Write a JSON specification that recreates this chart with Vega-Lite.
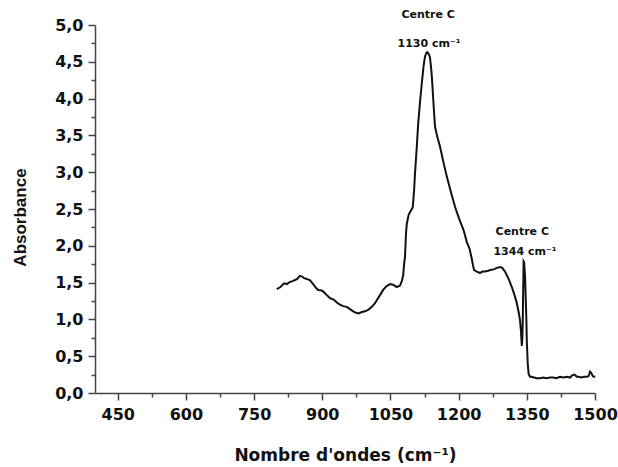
{
  "$schema": "https://vega.github.io/schema/vega-lite/v6.json",
  "width": 500,
  "height": 368,
  "autosize": {"type": "none"},
  "padding": {"left": 95, "top": 25, "right": 23, "bottom": 74},
  "background": "white",
  "config": {"view": {"stroke": null}},
  "datasets": {
    "spectrum": [
      {"wavenumber": 800, "absorbance": 1.41}, {"wavenumber": 808, "absorbance": 1.44},
      {"wavenumber": 816, "absorbance": 1.49}, {"wavenumber": 822, "absorbance": 1.48},
      {"wavenumber": 829, "absorbance": 1.51}, {"wavenumber": 835, "absorbance": 1.52},
      {"wavenumber": 840, "absorbance": 1.535}, {"wavenumber": 845, "absorbance": 1.55},
      {"wavenumber": 850, "absorbance": 1.59}, {"wavenumber": 855, "absorbance": 1.585},
      {"wavenumber": 860, "absorbance": 1.56}, {"wavenumber": 866, "absorbance": 1.55},
      {"wavenumber": 873, "absorbance": 1.53}, {"wavenumber": 880, "absorbance": 1.48},
      {"wavenumber": 886, "absorbance": 1.43}, {"wavenumber": 891, "absorbance": 1.40},
      {"wavenumber": 897, "absorbance": 1.395}, {"wavenumber": 902, "absorbance": 1.38},
      {"wavenumber": 910, "absorbance": 1.33}, {"wavenumber": 917, "absorbance": 1.29},
      {"wavenumber": 925, "absorbance": 1.27}, {"wavenumber": 932, "absorbance": 1.23},
      {"wavenumber": 939, "absorbance": 1.20}, {"wavenumber": 946, "absorbance": 1.18},
      {"wavenumber": 954, "absorbance": 1.17}, {"wavenumber": 961, "absorbance": 1.14},
      {"wavenumber": 968, "absorbance": 1.11}, {"wavenumber": 974, "absorbance": 1.09},
      {"wavenumber": 980, "absorbance": 1.08}, {"wavenumber": 987, "absorbance": 1.10},
      {"wavenumber": 994, "absorbance": 1.11}, {"wavenumber": 1001, "absorbance": 1.13},
      {"wavenumber": 1009, "absorbance": 1.17}, {"wavenumber": 1016, "absorbance": 1.22},
      {"wavenumber": 1023, "absorbance": 1.29}, {"wavenumber": 1029, "absorbance": 1.35},
      {"wavenumber": 1034, "absorbance": 1.40}, {"wavenumber": 1041, "absorbance": 1.45},
      {"wavenumber": 1049, "absorbance": 1.48}, {"wavenumber": 1056, "absorbance": 1.47},
      {"wavenumber": 1064, "absorbance": 1.44}, {"wavenumber": 1071, "absorbance": 1.46},
      {"wavenumber": 1075, "absorbance": 1.52}, {"wavenumber": 1078, "absorbance": 1.60},
      {"wavenumber": 1080, "absorbance": 1.75}, {"wavenumber": 1082, "absorbance": 1.85},
      {"wavenumber": 1084, "absorbance": 2.15}, {"wavenumber": 1086, "absorbance": 2.30},
      {"wavenumber": 1090, "absorbance": 2.42}, {"wavenumber": 1095, "absorbance": 2.48},
      {"wavenumber": 1099, "absorbance": 2.52}, {"wavenumber": 1102, "absorbance": 2.75},
      {"wavenumber": 1104, "absorbance": 2.98}, {"wavenumber": 1108, "absorbance": 3.35},
      {"wavenumber": 1111, "absorbance": 3.66}, {"wavenumber": 1115, "absorbance": 3.95},
      {"wavenumber": 1119, "absorbance": 4.21}, {"wavenumber": 1123, "absorbance": 4.45},
      {"wavenumber": 1126, "absorbance": 4.57}, {"wavenumber": 1129, "absorbance": 4.62},
      {"wavenumber": 1131, "absorbance": 4.63}, {"wavenumber": 1134, "absorbance": 4.61},
      {"wavenumber": 1137, "absorbance": 4.56}, {"wavenumber": 1140, "absorbance": 4.38},
      {"wavenumber": 1142, "absorbance": 4.21}, {"wavenumber": 1145, "absorbance": 3.90},
      {"wavenumber": 1148, "absorbance": 3.62}, {"wavenumber": 1153, "absorbance": 3.48},
      {"wavenumber": 1159, "absorbance": 3.35}, {"wavenumber": 1166, "absorbance": 3.15},
      {"wavenumber": 1174, "absorbance": 2.94}, {"wavenumber": 1183, "absorbance": 2.73},
      {"wavenumber": 1192, "absorbance": 2.53}, {"wavenumber": 1201, "absorbance": 2.37},
      {"wavenumber": 1211, "absorbance": 2.21}, {"wavenumber": 1218, "absorbance": 2.05},
      {"wavenumber": 1224, "absorbance": 1.96}, {"wavenumber": 1229, "absorbance": 1.82},
      {"wavenumber": 1232, "absorbance": 1.72}, {"wavenumber": 1234, "absorbance": 1.67},
      {"wavenumber": 1240, "absorbance": 1.65}, {"wavenumber": 1247, "absorbance": 1.63},
      {"wavenumber": 1252, "absorbance": 1.65}, {"wavenumber": 1258, "absorbance": 1.65},
      {"wavenumber": 1265, "absorbance": 1.66}, {"wavenumber": 1270, "absorbance": 1.67},
      {"wavenumber": 1277, "absorbance": 1.68}, {"wavenumber": 1284, "absorbance": 1.70},
      {"wavenumber": 1291, "absorbance": 1.71}, {"wavenumber": 1296, "absorbance": 1.70},
      {"wavenumber": 1302, "absorbance": 1.65}, {"wavenumber": 1310, "absorbance": 1.55},
      {"wavenumber": 1317, "absorbance": 1.44}, {"wavenumber": 1323, "absorbance": 1.33},
      {"wavenumber": 1328, "absorbance": 1.22}, {"wavenumber": 1332, "absorbance": 1.10},
      {"wavenumber": 1335, "absorbance": 0.99}, {"wavenumber": 1337, "absorbance": 0.85},
      {"wavenumber": 1339, "absorbance": 0.64}, {"wavenumber": 1340, "absorbance": 0.72},
      {"wavenumber": 1341, "absorbance": 0.95}, {"wavenumber": 1342, "absorbance": 1.40},
      {"wavenumber": 1343, "absorbance": 1.79}, {"wavenumber": 1344, "absorbance": 1.78},
      {"wavenumber": 1346, "absorbance": 1.60}, {"wavenumber": 1347, "absorbance": 1.40},
      {"wavenumber": 1349, "absorbance": 1.00}, {"wavenumber": 1350, "absorbance": 0.70},
      {"wavenumber": 1352, "absorbance": 0.40}, {"wavenumber": 1354, "absorbance": 0.26},
      {"wavenumber": 1357, "absorbance": 0.22}, {"wavenumber": 1361, "absorbance": 0.22},
      {"wavenumber": 1366, "absorbance": 0.21}, {"wavenumber": 1372, "absorbance": 0.20},
      {"wavenumber": 1379, "absorbance": 0.20}, {"wavenumber": 1386, "absorbance": 0.21},
      {"wavenumber": 1393, "absorbance": 0.20}, {"wavenumber": 1401, "absorbance": 0.21},
      {"wavenumber": 1408, "absorbance": 0.21}, {"wavenumber": 1415, "absorbance": 0.20},
      {"wavenumber": 1423, "absorbance": 0.22}, {"wavenumber": 1430, "absorbance": 0.21},
      {"wavenumber": 1438, "absorbance": 0.22}, {"wavenumber": 1445, "absorbance": 0.21},
      {"wavenumber": 1450, "absorbance": 0.24}, {"wavenumber": 1455, "absorbance": 0.25},
      {"wavenumber": 1460, "absorbance": 0.22}, {"wavenumber": 1464, "absorbance": 0.22},
      {"wavenumber": 1470, "absorbance": 0.21}, {"wavenumber": 1476, "absorbance": 0.22},
      {"wavenumber": 1482, "absorbance": 0.22}, {"wavenumber": 1486, "absorbance": 0.23},
      {"wavenumber": 1489, "absorbance": 0.29}, {"wavenumber": 1492, "absorbance": 0.27},
      {"wavenumber": 1495, "absorbance": 0.23}, {"wavenumber": 1498, "absorbance": 0.22},
      {"wavenumber": 1500, "absorbance": 0.23}
    ],
    "notes": [
      {"wavenumber": 1133, "absorbance": 5.14, "label": "Centre C"},
      {"wavenumber": 1135, "absorbance": 4.74, "label": "1130 cm⁻¹"},
      {"wavenumber": 1340, "absorbance": 2.19, "label": "Centre C"},
      {"wavenumber": 1346, "absorbance": 1.92, "label": "1344 cm⁻¹"}
    ]
  },
  "layer": [
    {
      "data": {"name": "spectrum"},
      "mark": {"type": "line", "color": "#111111", "strokeWidth": 2},
      "encoding": {
        "x": {
          "field": "wavenumber", "type": "quantitative",
          "scale": {"domain": [400, 1500], "nice": false, "zero": false},
          "axis": {
            "orient": "bottom",
            "values": [450, 600, 750, 900, 1050, 1200, 1350, 1500],
            "format": "d",
            "grid": false,
            "domainColor": "#444444", "domainWidth": 1.5,
            "tickColor": "#444444", "tickWidth": 1.5, "tickSize": 7,
            "labelFont": "DejaVu Sans", "labelFontWeight": "bold", "labelFontSize": 16,
            "labelColor": "#111111", "labelPadding": 6, "labelFlush": false,
            "title": "Nombre d'ondes (cm⁻¹)",
            "titleFont": "DejaVu Sans", "titleFontWeight": "bold", "titleFontSize": 17,
            "titleColor": "#111111",
            "titleX": 250, "titleY": 62, "titleBaseline": "middle"
          }
        },
        "y": {
          "field": "absorbance", "type": "quantitative",
          "scale": {"domain": [0, 5], "nice": false},
          "axis": {
            "orient": "left",
            "values": [0, 0.5, 1, 1.5, 2, 2.5, 3, 3.5, 4, 4.5, 5],
            "labelExpr": "replace(format(datum.value, '.1f'), '.', ',')",
            "grid": false,
            "domainColor": "#444444", "domainWidth": 1.5,
            "tickColor": "#444444", "tickWidth": 1.5, "tickSize": 7,
            "labelFont": "DejaVu Sans", "labelFontWeight": "bold", "labelFontSize": 16,
            "labelColor": "#111111", "labelPadding": 5, "labelFlush": false,
            "title": "Absorbance",
            "titleFont": "Liberation Sans", "titleFontWeight": "bold", "titleFontSize": 17,
            "titleColor": "#111111",
            "titleX": -75, "titleY": 192, "titleBaseline": "middle", "titleAngle": -90
          }
        }
      }
    },
    {
      "data": {"name": "spectrum"},
      "mark": {"type": "line", "opacity": 0},
      "encoding": {
        "x": {
          "field": "wavenumber", "type": "quantitative",
          "axis": {
            "orient": "bottom",
            "values": [525, 675, 825, 975, 1125, 1275, 1425],
            "labels": false, "domain": false, "grid": false, "title": null,
            "tickColor": "#444444", "tickWidth": 1.5, "tickSize": 4
          }
        },
        "y": {
          "field": "absorbance", "type": "quantitative",
          "axis": {
            "orient": "left",
            "values": [0.25, 0.75, 1.25, 1.75, 2.25, 2.75, 3.25, 3.75, 4.25, 4.75],
            "labels": false, "domain": false, "grid": false, "title": null,
            "tickColor": "#444444", "tickWidth": 1.5, "tickSize": 4
          }
        }
      }
    },
    {
      "data": {"name": "notes"},
      "mark": {"type": "text", "font": "DejaVu Sans", "fontWeight": "bold", "fontSize": 11, "color": "#111111", "baseline": "middle", "align": "center"},
      "encoding": {
        "x": {"field": "wavenumber", "type": "quantitative", "axis": null},
        "y": {"field": "absorbance", "type": "quantitative", "axis": null},
        "text": {"field": "label", "type": "nominal"}
      }
    }
  ],
  "resolve": {"axis": {"x": "independent", "y": "independent"}}
}
